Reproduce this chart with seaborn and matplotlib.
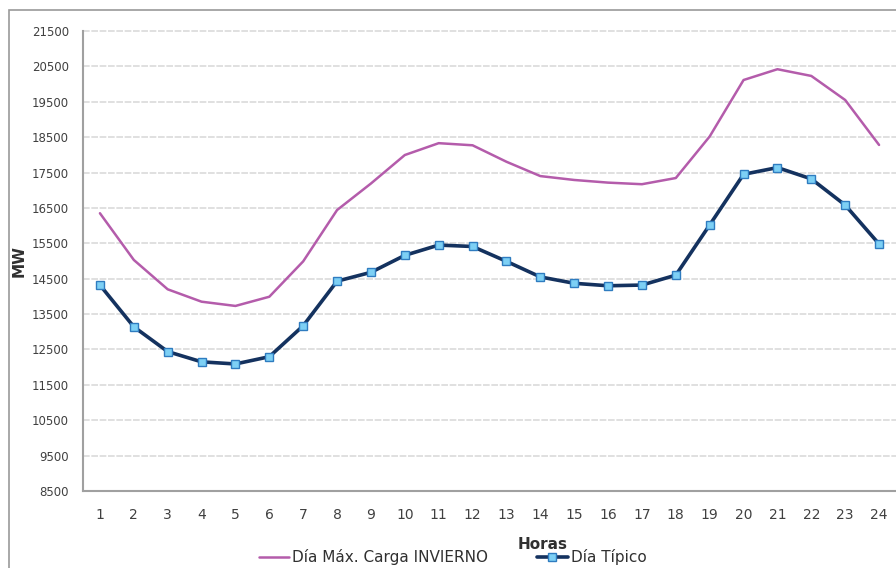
import matplotlib
matplotlib.use("Agg")
import matplotlib.pyplot as plt
from matplotlib.patches import Rectangle
import numpy as np
import pandas as pd
import seaborn as sns

horas = list(range(1, 25))
max_invierno = [16350, 15030, 14200, 13850, 13730, 13990, 14990, 16440, 17190, 17995,
                18330, 18270, 17805, 17400, 17290, 17215, 17170, 17345, 18520, 20115,
                20420, 20230, 19550, 18280]
dia_tipico = [14320, 13140, 12440, 12150, 12090, 12295, 13170, 14430, 14680, 15160,
              15450, 15410, 14990, 14550, 14370, 14300, 14320, 14600, 16020, 17450,
              17640, 17320, 16580, 15480]
y_ticks = list(range(8500, 21501, 1000))

serie_max = "Día Máx. Carga INVIERNO"
serie_tip = "Día Típico"

df_max = pd.DataFrame({"Horas": horas, "MW": max_invierno})
df_tip = pd.DataFrame({"Horas": horas, "MW": dia_tipico})

sns.set_style("white")
plt.rcParams["font.family"] = ["DejaVu Sans"]

fig = plt.figure(figsize=(8.96, 5.68), dpi=100)
ax = fig.add_axes([83 / 896, 1 - 491 / 568, (896 - 83) / 896, (491 - 31) / 568])

sns.lineplot(data=df_max, x="Horas", y="MW", ax=ax, color="#b45cab", linewidth=1.8,
             label=serie_max)
sns.lineplot(data=df_tip, x="Horas", y="MW", ax=ax, color="#14325f", linewidth=2.6,
             marker="s", markersize=5.5, markerfacecolor="#7dd0f5",
             markeredgecolor="#2f7cc0", markeredgewidth=1.0, label=serie_tip)

ax.set_xlim(0.5, 24.5)
ax.set_ylim(8500, 21500)
ax.set_yticks(y_ticks)
ax.set_yticklabels([str(v) for v in y_ticks])
ax.set_xticks(horas)
ax.set_xticks(np.arange(0.5, 25, 1), minor=True)
ax.tick_params(axis="x", which="major", length=0, pad=12, labelsize=10, colors="#404040")
ax.tick_params(axis="x", which="minor", length=4, direction="out", color="#909090", width=1)
ax.tick_params(axis="y", length=5, direction="out", color="#909090", width=1,
               labelsize=8.5, colors="#404040", pad=5)
ax.yaxis.grid(True, color="#dadada", linestyle=(0, (4, 1)), linewidth=1.2)
ax.xaxis.grid(False)
for gl in ax.get_ygridlines():
    gl.set_clip_on(False)
for side in ("top", "right"):
    ax.spines[side].set_visible(False)
for side in ("left", "bottom"):
    ax.spines[side].set_color("#a0a0a0")
    ax.spines[side].set_linewidth(1.5)

ax.set_xlabel("Horas", fontsize=11, fontweight="bold", color="#303030", labelpad=2)
ax.set_ylabel("MW", fontsize=11, fontweight="bold", color="#303030", labelpad=4)
ax.xaxis.set_label_coords((543 - 83) / (896 - 83), -(537 - 491) / (491 - 31))

handles, labels = ax.get_legend_handles_labels()
ax.get_legend().remove()
fig.legend(handles, labels, loc="center", bbox_to_anchor=(0.505, 1 - 557 / 568), ncol=2,
           frameon=False, fontsize=11, handlelength=2.0, columnspacing=3.2,
           handletextpad=0.2, labelcolor="#303030")

# outer chart frame
fig.patches.append(Rectangle((9 / 896, -0.05), 1.2, 1 - 10 / 568 + 0.05,
                             transform=fig.transFigure, fill=False,
                             edgecolor="#9a9a9a", linewidth=1.2))

fig.savefig("out.png", dpi=100)
